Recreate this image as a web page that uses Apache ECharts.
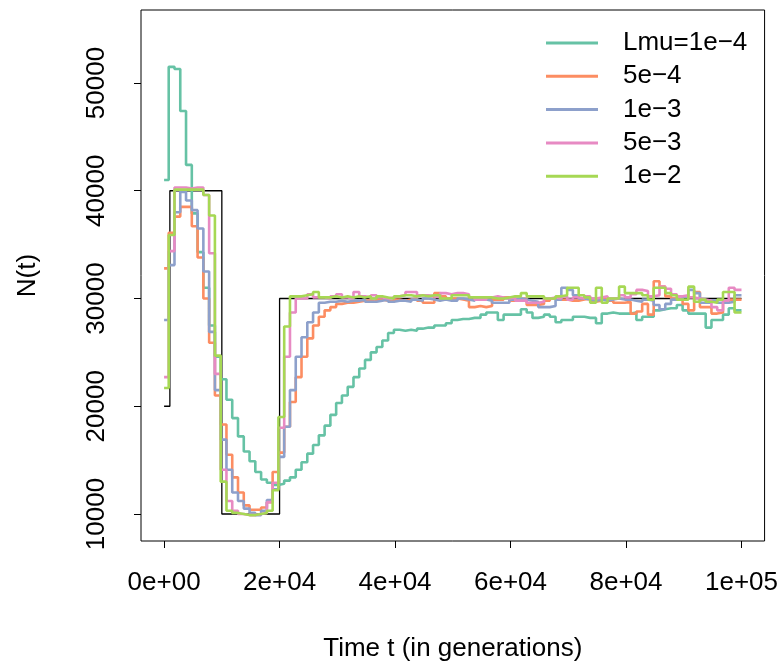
<!DOCTYPE html>
<html>
<head>
<meta charset="utf-8">
<script src="https://cdn.jsdelivr.net/npm/echarts@6/dist/echarts.min.js"></script>
<style>
html,body{margin:0;padding:0;background:#fff;}
#chart{width:781px;height:669px;}
</style>
</head>
<body>
<div id="chart"></div>
<script>
// step start times (generations); each value holds until the next start
const times = [0,800,1800,2800,3800,4800,5800,6800,7800,8800,
  9800,10800,11800,12800,13800,14800,15800,16800,17800,18800,
  19800,20800,21800,22800,23800,24800,25800,26800,27800,28800,
  29800,30800,31800,32800,33800,34800,35800,36800,37800,38800,
  39800,40800,41800,42800,43800,44800,45800,46800,47800,48800,
  49800,50800,51800,52800,53800,54800,55800,56800,57800,58800,
  59800,60800,61800,62800,63800,64800,65800,66800,67800,68800,
  69800,70800,71800,72800,73800,74800,75800,76800,77800,78800,
  79800,80800,81800,82800,83800,84800,85800,86800,87800,88800,
  89800,90800,91800,92800,93800,94800,95800,96800,97800,98800];
const endTime = 100000;

const seriesNames = ['Lmu=1e\u22124','5e\u22124','1e\u22123','5e\u22123','1e\u22122'];

const lmu1e4 = [41000,51500,51300,47400,42400,37900,34300,31000,27500,24600,
  22500,20600,18900,17200,15800,14900,13900,13200,12900,12700,
  12800,13100,13400,14100,14800,15600,16400,17300,18200,19200,
  20300,21000,21800,22700,23500,24300,25000,25500,26100,26800,
  27100,27000,27100,27000,27200,27300,27300,27500,27500,27700,
  28000,28100,28100,28200,28200,28500,28700,28700,28000,28500,
  28500,28500,29000,28700,28200,28300,28500,28300,27800,28000,
  28000,28300,28300,28200,28200,27700,28600,28700,28600,28600,
  28600,28700,28000,28300,28300,28900,29000,29100,29100,29400,
  28900,28600,28600,28600,27300,28000,28000,28500,29100,28900];

const lmu5e4 = [32800,36100,37600,38500,38500,36700,33800,30000,25900,21000,
  18300,15500,13400,12000,10800,10400,10400,10600,11100,13900,
  15700,18100,20400,22700,24600,26300,27500,28300,28900,29200,
  29500,29600,29600,29700,29800,29800,29700,29900,29800,29700,
  29900,29800,29900,30000,29800,29600,29600,30500,30200,30000,
  30000,29900,29800,29200,29300,29200,29300,29900,29900,30100,
  29800,29900,30000,29400,29400,29500,29800,30000,29900,29900,
  29800,29800,29900,30000,29700,29800,30000,29800,29600,29600,
  29700,28600,28800,29500,28500,31600,31100,30200,30000,29900,
  29500,28900,30600,29200,29200,28600,28700,29600,29900,29900];

const lmu1e3 = [28000,33100,38000,39900,39100,38200,36500,32500,26900,21500,
  16900,14100,12000,11200,10500,10100,9900,10300,11300,12300,
  15300,18100,21500,24600,26400,27800,28700,29600,29700,29700,
  29800,29700,29800,29800,29900,29700,29700,29800,29900,29700,
  29800,29800,29700,29900,29800,30000,29900,29800,29900,29800,
  29800,30000,29900,29800,30000,29900,29800,29600,29600,29600,
  29900,30000,29900,29800,29700,29200,29200,29300,29900,31000,
  30800,30300,30000,29900,29800,29900,29800,29900,30000,29900,
  29900,29800,29700,29900,29800,29400,29000,29500,29900,29900,
  30200,30800,30500,29600,29600,29800,29600,29600,29700,30300];

const lmu5e3 = [22700,34400,40300,40300,40200,40300,40300,39600,34200,23000,
  14100,11200,10300,10000,9900,9900,10000,10100,11100,12900,
  18000,24600,28700,30000,30000,30400,30100,30100,30000,30200,
  30400,30100,30000,30600,30200,30100,30300,30100,30000,30100,
  30200,30300,30600,30600,30300,30300,30200,30100,30500,30400,
  30500,30500,30400,30100,29900,29900,30100,30200,30100,30000,
  30100,29800,29800,29600,29600,29700,30000,30100,30000,30200,
  29900,30100,30000,30200,30000,30100,30200,30000,30000,30300,
  30100,30400,30800,30700,30200,30300,31100,30900,30400,30200,
  30300,30100,30000,29900,29800,29200,28900,29800,31000,30800];

const lmu1e2 = [21700,35900,40100,40100,40100,40100,40100,39600,37700,24700,
  13000,10300,10100,10000,9900,9900,10000,10100,10300,12200,
  19000,27400,30200,30200,30300,30400,30600,30100,30100,30200,
  30100,30200,30100,30200,30100,30200,30000,30200,30100,30000,
  30200,30300,30300,30200,30300,30200,30300,30300,30000,30000,
  30300,30300,30300,30100,30100,30100,30100,30000,30000,30100,
  30200,30200,30500,30200,30200,30200,30000,30000,30200,30300,
  31000,31000,30300,30100,29600,31000,29600,30000,30000,31100,
  30500,30500,30500,30300,29900,31000,31000,30500,30300,29900,
  29900,31100,29700,29900,29700,29600,29900,30600,30600,28700];

// true population size history
const trueTimes = [0,1000,10000,20000,100000];
const trueN = [20000,40000,10000,30000,30000];

const xTicks = [0,20000,40000,60000,80000,100000];
const xTickLabels = ['0e+00','2e+04','4e+04','6e+04','8e+04','1e+05'];
const yTicks = [10000,20000,30000,40000,50000];
const yTickLabels = ['10000','20000','30000','40000','50000'];

const colors = ['#66C2A5','#FC8D62','#8DA0CB','#E78AC3','#A6D854'];
const allValues = [lmu1e4,lmu5e4,lmu1e3,lmu5e3,lmu1e2];

function stepData(ts, vs){
  const d = ts.map((t,i)=>[t, vs[i]]);
  d.push([endTime, vs[vs.length-1]]);
  return d;
}

const FONT = '"Liberation Sans", Arial, Helvetica, sans-serif';
const chart = echarts.init(document.getElementById('chart'), null, {renderer:'canvas'});

const series = [{
  name: 'truth',
  type: 'line',
  step: 'end',
  data: trueTimes.map((t,i)=>[t, trueN[i]]),
  showSymbol: false,
  symbol: 'none',
  lineStyle: {color:'#000', width:1.3},
  itemStyle: {color:'#000'},
  z: 1
}];
allValues.forEach((vals, k)=>{
  series.push({
    name: seriesNames[k],
    type: 'line',
    step: 'end',
    data: stepData(times, vals),
    showSymbol: false,
    symbol: 'none',
    lineStyle: {color: colors[k], width: 2.6},
    itemStyle: {color: colors[k]},
    z: 2 + k
  });
});

chart.setOption({
  animation: false,
  backgroundColor: '#fff',
  textStyle: {fontFamily: FONT},
  grid: {left:141, right:16, top:10, bottom:128, show:true, borderColor:'#000', borderWidth:1, backgroundColor:'transparent'},
  legend: {
    data: seriesNames,
    orient: 'vertical',
    left: 541,
    top: 25,
    icon: 'rect',
    itemWidth: 52,
    itemHeight: 3,
    itemGap: 7.3,
    textStyle: {fontSize: 26, color:'#000', fontFamily: FONT, padding:[0,0,0,20]},
    selectedMode: false
  },
  xAxis: {
    type: 'value',
    min: -4000,
    max: 104000,
    splitLine: {show:false},
    axisLine: {show:false, onZero:false},
    axisTick: {show:true, length:7, lineStyle:{color:'#000', width:1}, customValues: xTicks},
    axisLabel: {
      customValues: xTicks,
      formatter: v => xTickLabels[xTicks.indexOf(v)],
      fontSize: 26, color:'#000', fontFamily: FONT, margin: 29
    },
    name: 'Time t (in generations)',
    nameLocation: 'middle',
    nameGap: 95,
    nameTextStyle: {fontSize: 26, color:'#000', fontFamily: FONT}
  },
  yAxis: {
    type: 'value',
    min: 7494,
    max: 56775,
    splitLine: {show:false},
    axisLine: {show:false, onZero:false},
    axisTick: {show:true, length:7, lineStyle:{color:'#000', width:1}, customValues: yTicks},
    axisLabel: {
      customValues: yTicks,
      formatter: v => yTickLabels[yTicks.indexOf(v)],
      rotate: 90,
      fontSize: 26, color:'#000', fontFamily: FONT, margin: 31
    },
    name: 'N(t)',
    nameLocation: 'middle',
    nameGap: 100,
    nameRotate: 90,
    nameTextStyle: {fontSize: 26, color:'#000', fontFamily: FONT}
  },
  series: series
});
</script>
</body>
</html>
